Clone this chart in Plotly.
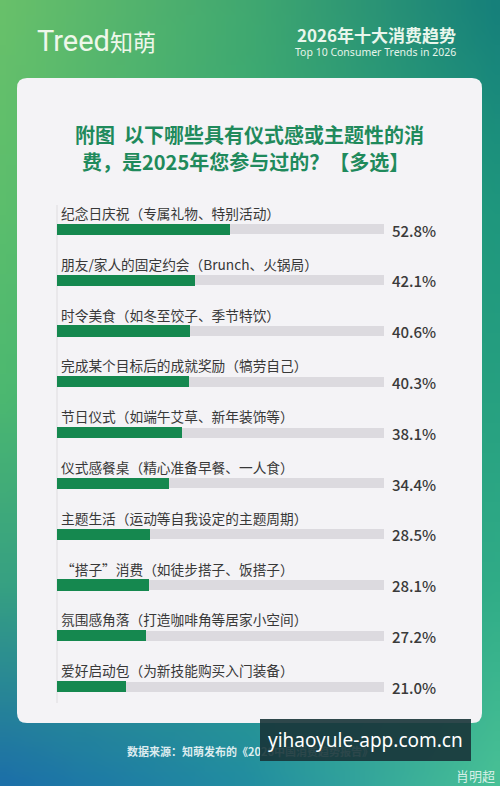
import base64
import struct
import zlib

import plotly.graph_objects as go

# ---------------- data ----------------
categories = [
    "纪念日庆祝（专属礼物、特别活动）",
    "朋友/家人的固定约会（Brunch、火锅局）",
    "时令美食（如冬至饺子、季节特饮）",
    "完成某个目标后的成就奖励（犒劳自己）",
    "节日仪式（如端午艾草、新年装饰等）",
    "仪式感餐桌（精心准备早餐、一人食）",
    "主题生活（运动等自我设定的主题周期）",
    "“搭子”消费（如徒步搭子、饭搭子）",
    "氛围感角落（打造咖啡角等居家小空间）",
    "爱好启动包（为新技能购买入门装备）",
]
values = [52.8, 42.1, 40.6, 40.3, 38.1, 34.4, 28.5, 28.1, 27.2, 21.0]
value_labels = ["52.8%", "42.1%", "40.6%", "40.3%", "38.1%", "34.4%", "28.5%", "28.1%", "27.2%", "21.0%"]
full_scale = [100] * len(values)

title_line1 = "附图  以下哪些具有仪式感或主题性的消"
title_line2 = "费，是2025年您参与过的？【多选】"
header_cn = "2026年十大消费趋势"
header_en = "Top 10 Consumer Trends in 2026"
source_text = "数据来源：知萌发布的《2026中国消费趋势报告》"

# ---------------- background gradient image ----------------
W, H = 500, 786
FONT = "Noto Sans CJK SC"

grid = [  # rows top->bottom, cols left->right
    [(104, 192, 106), (64, 168, 112), (22, 128, 122)],
    [(92, 190, 108), (58, 172, 115), (30, 150, 125)],
    [(76, 184, 112), (54, 168, 120), (38, 160, 128)],
    [(54, 160, 130), (46, 158, 130), (48, 172, 135)],
    [(28, 112, 168), (34, 142, 160), (72, 192, 150)],
]


def lerp(a, b, t):
    return a + (b - a) * t


def sample(u, v):
    rows, cols = len(grid), len(grid[0])
    fy = v * (rows - 1)
    fx = u * (cols - 1)
    r0 = min(int(fy), rows - 2)
    c0 = min(int(fx), cols - 2)
    ty, tx = fy - r0, fx - c0
    out = []
    for k in range(3):
        top = lerp(grid[r0][c0][k], grid[r0][c0 + 1][k], tx)
        bot = lerp(grid[r0 + 1][c0][k], grid[r0 + 1][c0 + 1][k], tx)
        out.append(int(round(lerp(top, bot, ty))))
    return out


def make_png(w, h):
    raw = b""
    for j in range(h):
        row = b"\x00"
        for i in range(w):
            row += bytes(sample(i / (w - 1), j / (h - 1)))
        raw += row

    def chunk(tag, data):
        c = struct.pack(">I", len(data)) + tag + data
        return c + struct.pack(">I", zlib.crc32(tag + data) & 0xFFFFFFFF)

    png = b"\x89PNG\r\n\x1a\n"
    png += chunk(b"IHDR", struct.pack(">IIBBBBB", w, h, 8, 2, 0, 0, 0))
    png += chunk(b"IDAT", zlib.compress(raw, 9))
    png += chunk(b"IEND", b"")
    return "data:image/png;base64," + base64.b64encode(png).decode()


bg_src = make_png(50, 79)


def py(px):
    return 1 - px / H


def px_x(px):
    return px / W


# ---------------- figure ----------------
n = len(categories)
idx = list(range(n))

fig = go.Figure()
fig.add_trace(go.Bar(
    x=full_scale, y=idx, orientation="h", width=0.2,
    marker=dict(color="#dcdadf", line=dict(width=0)),
    hoverinfo="skip", showlegend=False,
))
fig.add_trace(go.Bar(
    x=values, y=idx, orientation="h", width=0.217,
    marker=dict(color="#15884f", line=dict(width=0)),
    hoverinfo="skip", showlegend=False,
))

row_px = 50.8
first_center = 229
top_px = first_center - row_px / 2
bot_px = top_px + row_px * n

fig.update_layout(
    width=W, height=H,
    margin=dict(l=0, r=0, t=0, b=0),
    paper_bgcolor="#3fa878",
    plot_bgcolor="rgba(0,0,0,0)",
    barmode="overlay",
    bargap=0,
    xaxis=dict(domain=[px_x(57), px_x(384)], range=[0, 100], visible=False, fixedrange=True),
    yaxis=dict(domain=[py(bot_px), py(top_px)], range=[n - 0.5, -0.5], visible=False, fixedrange=True),
    showlegend=False,
    font=dict(family=FONT),
)

fig.add_layout_image(dict(
    source=bg_src, xref="paper", yref="paper", x=0, y=1, sizex=1, sizey=1,
    xanchor="left", yanchor="top", sizing="stretch", layer="below",
))

# card with rounded corners
x0, x1, y0, y1, r = px_x(17), px_x(482), py(78), py(723), 10
rx, ry = r / W, r / H
card_path = (
    f"M {x0 + rx},{y0} L {x1 - rx},{y0} Q {x1},{y0} {x1},{y0 - ry} "
    f"L {x1},{y1 + ry} Q {x1},{y1} {x1 - rx},{y1} "
    f"L {x0 + rx},{y1} Q {x0},{y1} {x0},{y1 + ry} "
    f"L {x0},{y0 - ry} Q {x0},{y0} {x0 + rx},{y0} Z"
)
fig.add_shape(type="path", path=card_path, xref="paper", yref="paper",
              fillcolor="#f4f3f6", line=dict(width=0), layer="below")

# thin vertical axis line
fig.add_shape(type="line", xref="paper", yref="paper",
              x0=px_x(57), x1=px_x(57), y0=py(205), y1=py(703),
              line=dict(color="#dedcdf", width=1), layer="below")

annotations = []
for i, (cat, lab) in enumerate(zip(categories, value_labels)):
    annotations.append(dict(
        x=0, y=i, xref="x", yref="y", text=cat, showarrow=False,
        xanchor="left", yanchor="middle", xshift=2, yshift=16,
        font=dict(size=13.7, color="#383838", family=FONT),
    ))
    annotations.append(dict(
        x=100, y=i, xref="x", yref="y", text=lab, showarrow=False,
        xanchor="left", yanchor="middle", xshift=6, yshift=-1,
        font=dict(size=15, color="#3a3a3a", family=FONT, weight=500),
    ))

# title
annotations.append(dict(
    x=px_x(249), y=py(134), xref="paper", yref="paper", text=title_line1,
    showarrow=False, xanchor="center", yanchor="middle",
    font=dict(size=20, color="#1f8a5c", family=FONT, weight="bold"),
))
annotations.append(dict(
    x=px_x(245), y=py(161), xref="paper", yref="paper", text=title_line2,
    showarrow=False, xanchor="center", yanchor="middle",
    font=dict(size=20, color="#1f8a5c", family=FONT, weight="bold"),
))

# header
annotations.append(dict(
    x=px_x(35), y=py(41), xref="paper", yref="paper",
    text="<span style='font-family:Roboto;font-size:29px'>Treed</span>知萌",
    showarrow=False, xanchor="left", yanchor="middle",
    font=dict(size=23, color="#eef7ea", family=FONT),
))
annotations.append(dict(
    x=px_x(458), y=py(34), xref="paper", yref="paper", text=header_cn,
    showarrow=False, xanchor="right", yanchor="middle",
    font=dict(size=17, color="#e9f6ec", family=FONT, weight="bold"),
))
annotations.append(dict(
    x=px_x(458), y=py(52), xref="paper", yref="paper", text=header_en,
    showarrow=False, xanchor="right", yanchor="middle",
    font=dict(size=10.5, color="#e6f4ea", family="Noto Sans"),
))

# footer source
annotations.append(dict(
    x=px_x(250), y=py(751), xref="paper", yref="paper", text=source_text,
    showarrow=False, xanchor="center", yanchor="middle",
    font=dict(size=11, color="rgba(255,255,255,0.85)", family=FONT, weight="bold"),
))

# watermark overlay
annotations.append(dict(
    x=px_x(365), y=py(740), xref="paper", yref="paper", text="yihaoyule-app.com.cn",
    showarrow=False, xanchor="center", yanchor="middle",
    bgcolor="rgba(24,52,56,0.9)", borderpad=8, borderwidth=0,
    font=dict(size=19, color="#ffffff", family="Noto Sans"),
))
annotations.append(dict(
    x=px_x(497), y=py(775), xref="paper", yref="paper", text="肖明超",
    showarrow=False, xanchor="right", yanchor="middle",
    font=dict(size=13, color="rgba(255,255,255,0.8)", family=FONT),
))

fig.update_layout(annotations=annotations)
fig.write_html(
    "out.html",
    config={"displayModeBar": False},
    post_script="document.body.style.margin='0';document.body.style.padding='0';",
)
